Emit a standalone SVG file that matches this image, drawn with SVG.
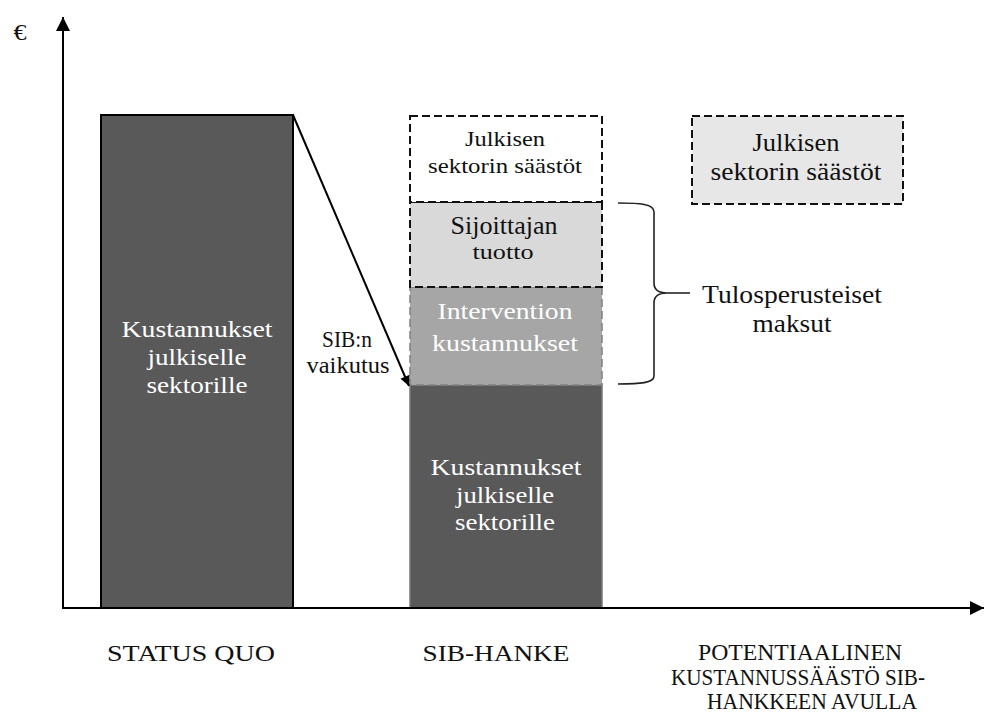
<svg xmlns="http://www.w3.org/2000/svg" width="984" height="713" viewBox="0 0 984 713" font-family="'Liberation Serif', 'Times New Roman', serif">
  <style>
    text { font-family: "Liberation Serif", "Times New Roman", serif; text-anchor: middle; }
    .dark { fill: #ffffff; }
    .ink { fill: #111111; }
    .bar { fill: #595959; }
    .dash { stroke: #111111; stroke-width: 2; stroke-dasharray: 8 4; }
    .axis { stroke: #000000; stroke-width: 2; fill: none; }
    .caps { font-size: 23px; }
  </style>
  <defs>
    <marker id="head" viewBox="0 0 10 10" refX="10" refY="5" markerWidth="15" markerHeight="14" markerUnits="userSpaceOnUse" orient="auto">
      <path d="M0,0 L10,5 L0,10 z" fill="#000"/>
    </marker>
    <marker id="headSmall" viewBox="0 0 10 10" refX="10" refY="5" markerWidth="14" markerHeight="10" markerUnits="userSpaceOnUse" orient="auto">
      <path d="M0,0 L10,5 L0,10 z" fill="#000"/>
    </marker>
  </defs>

  <rect width="984" height="713" fill="#ffffff"/>

  <!-- status quo: total public cost -->
  <g id="status-quo-bar" font-family="'Liberation Serif', serif">
    <rect x="101" y="115" width="192" height="493" class="bar" stroke="#000" stroke-width="2"/>
    <text x="197" y="337" font-size="24" class="dark" textLength="151" lengthAdjust="spacingAndGlyphs">Kustannukset</text>
    <text x="197" y="365" font-size="24" class="dark" textLength="99" lengthAdjust="spacingAndGlyphs">julkiselle</text>
    <text x="197" y="393" font-size="24" class="dark" textLength="101" lengthAdjust="spacingAndGlyphs">sektorille</text>
  </g>

  <!-- SIB project stack -->
  <g id="sib-cost-bar" font-family="'Liberation Serif', serif">
    <rect x="410" y="385" width="192" height="223" class="bar" stroke="#7a7a7a" stroke-width="1.5"/>
    <text x="506" y="475" font-size="24" class="dark" textLength="151" lengthAdjust="spacingAndGlyphs">Kustannukset</text>
    <text x="505" y="503" font-size="24" class="dark" textLength="98" lengthAdjust="spacingAndGlyphs">julkiselle</text>
    <text x="505" y="530" font-size="24" class="dark" textLength="100" lengthAdjust="spacingAndGlyphs">sektorille</text>
  </g>

  <g id="sib-intervention" font-family="'Liberation Serif', serif">
    <rect x="410" y="287" width="192" height="98" fill="#a6a6a6" stroke="#808080" stroke-width="1.5" stroke-dasharray="8 4"/>
    <text x="505" y="319" font-size="24" class="dark" textLength="135" lengthAdjust="spacingAndGlyphs">Intervention</text>
    <text x="505" y="351" font-size="24" class="dark" textLength="146" lengthAdjust="spacingAndGlyphs">kustannukset</text>
  </g>

  <g id="sib-investor-return" font-family="'Liberation Serif', serif">
    <rect x="410" y="202" width="192" height="85" fill="#d9d9d9" class="dash"/>
    <text x="504" y="234" font-size="25" class="ink" textLength="107" lengthAdjust="spacingAndGlyphs">Sijoittajan</text>
    <text x="503" y="259" font-size="21" class="ink" textLength="61" lengthAdjust="spacingAndGlyphs">tuotto</text>
  </g>

  <g id="sib-public-savings" font-family="'Liberation Serif', serif">
    <rect x="410" y="116" width="192" height="86" fill="#ffffff" class="dash"/>
    <text x="505" y="146" font-size="22" class="ink" textLength="80" lengthAdjust="spacingAndGlyphs">Julkisen</text>
    <text x="505" y="173" font-size="22" class="ink" textLength="154" lengthAdjust="spacingAndGlyphs">sektorin säästöt</text>
  </g>

  <!-- potential savings box -->
  <g id="potential-savings" font-family="'Liberation Serif', serif">
    <rect x="692" y="116" width="211" height="88" fill="#e7e7e7" class="dash"/>
    <text x="796" y="151" font-size="25" class="ink" textLength="87" lengthAdjust="spacingAndGlyphs">Julkisen</text>
    <text x="796" y="180" font-size="25" class="ink" textLength="171" lengthAdjust="spacingAndGlyphs">sektorin säästöt</text>
  </g>

  <g id="payments-label" font-family="'Liberation Serif', serif">
    <text x="792" y="303" font-size="25" class="ink" textLength="180" lengthAdjust="spacingAndGlyphs">Tulosperusteiset</text>
    <text x="792" y="332" font-size="25" class="ink" textLength="79" lengthAdjust="spacingAndGlyphs">maksut</text>
  </g>

  <g id="impact-label" font-family="'Liberation Serif', serif">
    <text x="347" y="347" font-size="23" class="ink" textLength="50" lengthAdjust="spacingAndGlyphs">SIB:n</text>
    <text x="348" y="373" font-size="23" class="ink" textLength="83" lengthAdjust="spacingAndGlyphs">vaikutus</text>
  </g>

  <!-- connectors: impact arrow and payment brace -->
  <g id="connectors">
    <line x1="293" y1="115" x2="409" y2="386" stroke="#000" stroke-width="2" marker-end="url(#headSmall)"/>
    <path d="M618,203 C640,203 654,204 654,212 L654,283 C654,290 658,293 667,293 C658,293 654,296 654,303 L654,376 C654,383 640,384 618,384" fill="none" stroke="#222" stroke-width="1.6"/>
    <line x1="667" y1="293" x2="690" y2="293" stroke="#222" stroke-width="1.6"/>
  </g>

  <!-- axes -->
  <g id="axes" font-family="'Liberation Serif', serif">
    <line x1="63" y1="609" x2="63" y2="17" class="axis" marker-end="url(#head)"/>
    <line x1="62" y1="608" x2="984" y2="608" class="axis" marker-end="url(#head)"/>
    <text x="20" y="40" font-size="24" class="ink" textLength="13" lengthAdjust="spacingAndGlyphs">€</text>
  </g>

  <!-- category labels -->
  <g id="category-labels" class="caps" font-family="'Liberation Serif', serif">
    <text x="191" y="661" class="ink" textLength="168" lengthAdjust="spacingAndGlyphs">STATUS QUO</text>
    <text x="496" y="661" class="ink" textLength="147" lengthAdjust="spacingAndGlyphs">SIB-HANKE</text>
    <text x="800" y="660" class="ink" textLength="204" lengthAdjust="spacingAndGlyphs">POTENTIAALINEN</text>
    <text x="798" y="685" class="ink" textLength="254" lengthAdjust="spacingAndGlyphs">KUSTANNUSSÄÄSTÖ SIB-</text>
    <text x="812" y="709" class="ink" textLength="210" lengthAdjust="spacingAndGlyphs">HANKKEEN AVULLA</text>
  </g>
</svg>
